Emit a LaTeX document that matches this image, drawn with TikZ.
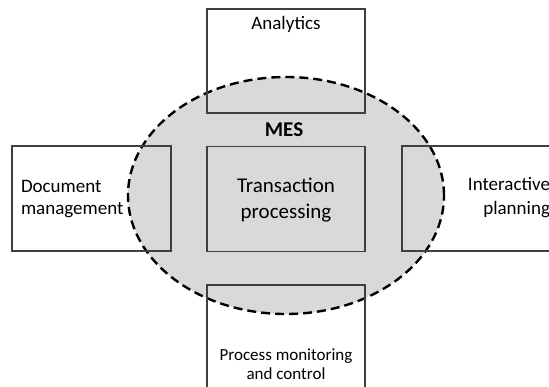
\documentclass[tikz,border=0pt]{standalone}
\usepackage{fontspec}
\setmainfont{Carlito}
\usetikzlibrary{shapes.geometric}
\definecolor{mesgray}{HTML}{D9D9D9}
\definecolor{boxline}{HTML}{404040}
\begin{document}
\begin{tikzpicture}[x=1pt,y=-1pt,
  sysbox/.style={draw=boxline, line width=1.1pt, inner sep=0pt, outer sep=0pt},
  mesoval/.style={ellipse, fill=mesgray, draw=black, line width=2.4pt, dash pattern=on 9pt off 5pt, inner sep=0pt, outer sep=0pt},
  lbl/.style={inner sep=0pt, outer sep=0pt, text=black},
  ]
\useasboundingbox (0,0) rectangle (549,387);
\clip (0,0) rectangle (549,387);
% MES ellipse
\node[mesoval, minimum width=316pt, minimum height=237pt] (mes) at (286,195.5) {};
% boxes
\node[sysbox, minimum width=158pt, minimum height=104pt] (ana) at (286,61) {};
\node[sysbox, minimum width=159pt, minimum height=105pt] (doc) at (91.5,198.5) {};
\node[sysbox, minimum width=158pt, minimum height=105pt] (tra) at (286,199) {};
\node[sysbox, minimum width=159pt, minimum height=105pt] (int) at (481.5,198.5) {};
\node[sysbox, minimum width=158pt, minimum height=105pt] (pmc) at (286,337.5) {};
% labels
\node[lbl, anchor=base, font=\fontsize{19}{22}\selectfont] (tana) at (286,30) {Analytics};
\node[lbl, anchor=base, font=\fontsize{21}{25}\selectfont\bfseries] (tmes) at (284,137) {MES};
\node[lbl, anchor=base west, align=left, font=\fontsize{19}{22}\selectfont] (tdoc) at (21,215) {Document\\management};
\node[lbl, anchor=base, align=center, font=\fontsize{21}{26}\selectfont] (ttra) at (286,219) {Transaction\\processing};
\node[lbl, anchor=base east, align=right, font=\fontsize{19}{24}\selectfont] (tint) at (550,215) {Interactive\\planning};
\node[lbl, anchor=base, align=center, font=\fontsize{17}{19.5}\selectfont] (tpmc) at (286,380) {Process monitoring\\and control};
\end{tikzpicture}
\end{document}
